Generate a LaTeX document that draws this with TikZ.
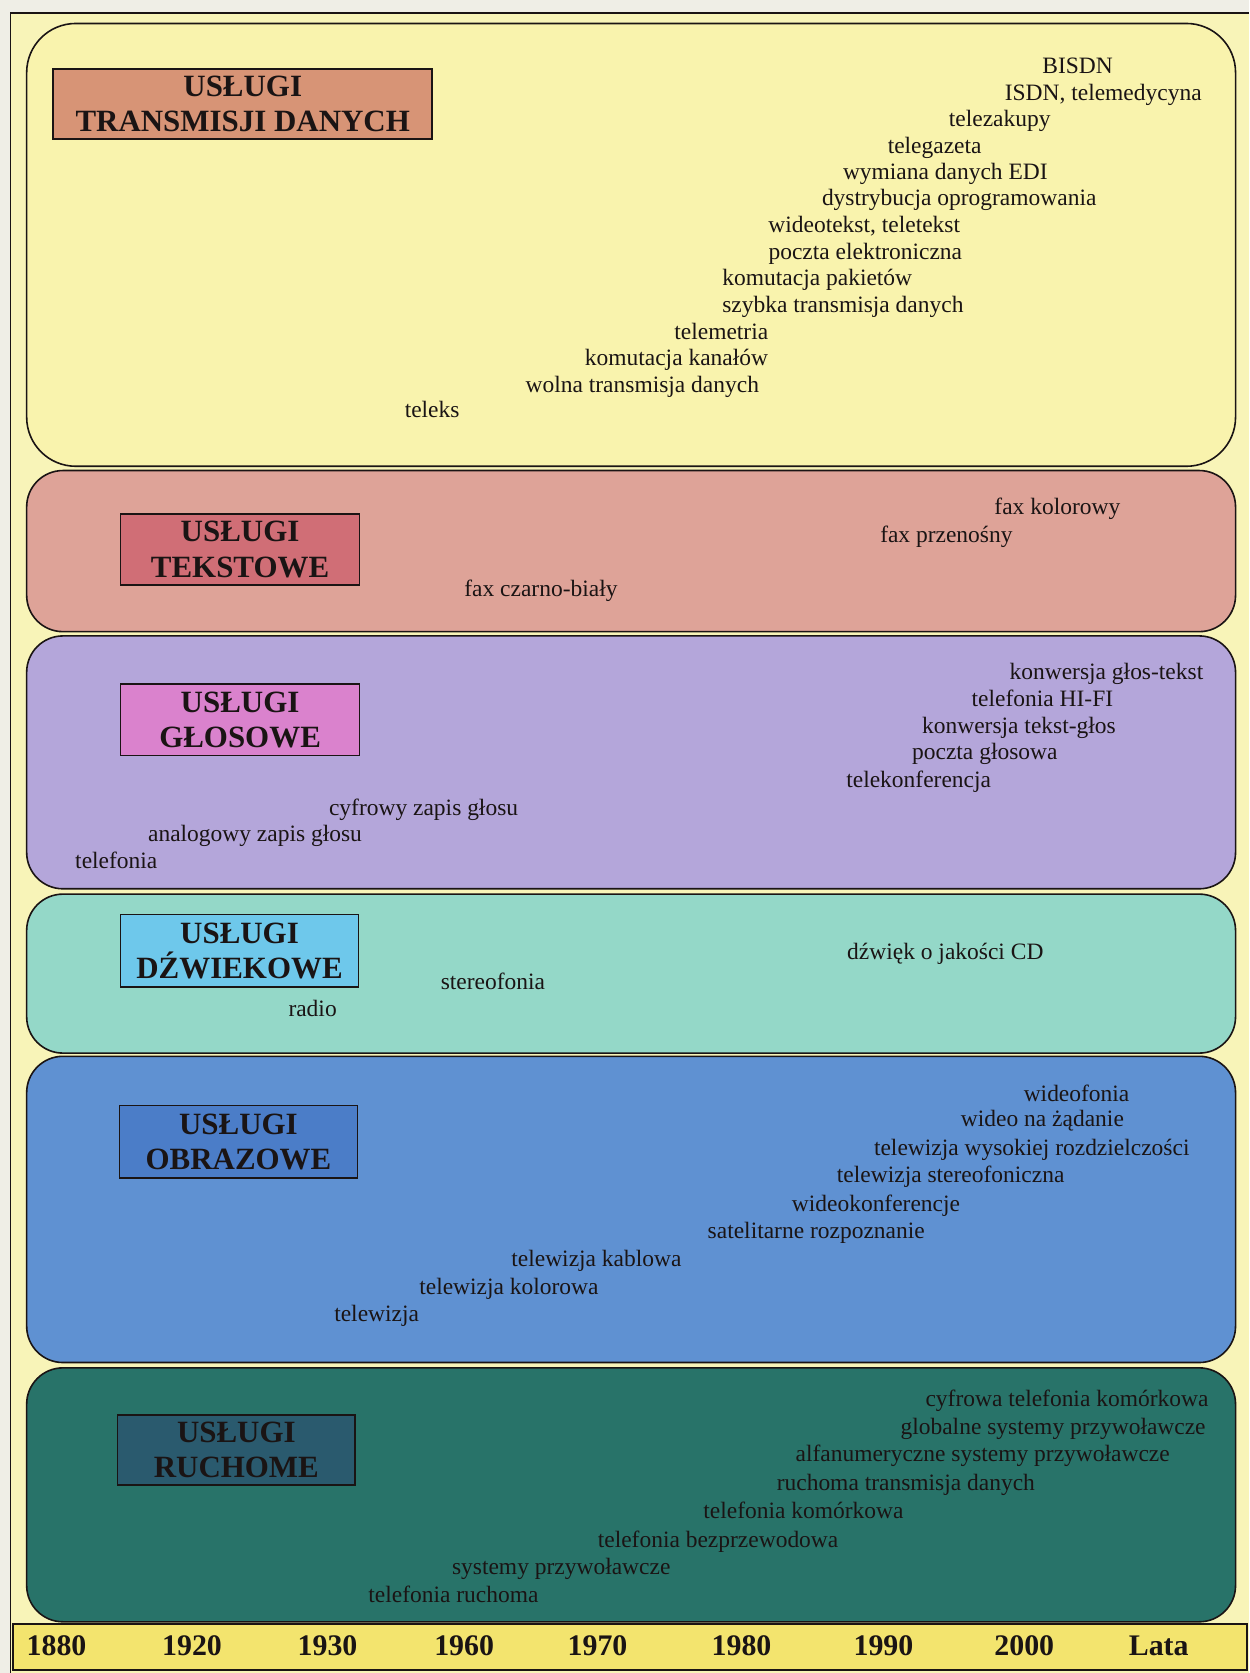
\documentclass[tikz,border=0pt]{standalone}
\usepackage{fontspec}
\setmainfont{Liberation Serif}
\begin{document}
\begin{tikzpicture}[x=1pt,y=-1pt]
\definecolor{page}{HTML}{EFEEE6}
\definecolor{frame}{HTML}{F8F4B8}
\definecolor{bandA}{HTML}{F9F3AD}
\definecolor{bandB}{HTML}{DEA398}
\definecolor{bandC}{HTML}{B4A6DA}
\definecolor{bandD}{HTML}{94D8C8}
\definecolor{bandE}{HTML}{5F91D2}
\definecolor{bandF}{HTML}{287369}
\definecolor{ttlA}{HTML}{D79476}
\definecolor{ttlB}{HTML}{D06E76}
\definecolor{ttlC}{HTML}{DA82CD}
\definecolor{ttlD}{HTML}{6EC8EB}
\definecolor{ttlE}{HTML}{4B7DC8}
\definecolor{ttlF}{HTML}{2A5A6E}
\definecolor{axis}{HTML}{F3E46E}
\definecolor{ink}{HTML}{1A1414}
\tikzset{
  band/.style={draw=ink, line width=1.5pt, rounded corners=#1, inner sep=0pt, minimum width=1133pt},
  band/.default=34pt,
  ttl/.style 2 args={draw=ink, line width=1.6pt, inner sep=0pt, align=center,
    minimum width=#1, minimum height=#2, text=ink,
    font=\fontsize{29}{33}\selectfont\bfseries},
  item/.style={inner sep=0pt, text=ink, text height=15pt, text depth=5pt,
    yshift=-3pt, font=\fontsize{22}{24}\selectfont},
  year/.style={inner sep=0pt, text=ink, text height=19pt, text depth=1pt,
    yshift=-2pt, font=\fontsize{28}{30}\selectfont\bfseries}
}
% page and frame
\useasboundingbox (0,0) rectangle (1171,1568);
\fill[page] (0,0) rectangle (1171,1568);
\fill[frame] (10,12) rectangle (1171,1568);
\draw[ink, line width=1.5pt] (10,1568) -- (10,12) -- (1171,12);

% bands
\node[band=46pt, fill=bandA, minimum height=415pt] (bA) at (591.5,229.5) {};
\node[band, fill=bandB, minimum height=151pt] (bB) at (591.5,516.5) {};
\node[band, fill=bandC, minimum height=237pt] (bC) at (591.5,714.5) {};
\node[band, fill=bandD, minimum height=149pt] (bD) at (591.5,912.5) {};
\node[band, fill=bandE, minimum height=287pt] (bE) at (591.5,1133.5) {};
\node[band, fill=bandF, minimum height=238pt] (bF) at (591.5,1401) {};

% titles
\node[ttl={355pt}{65pt}, fill=ttlA] (tA) at (227.5,97.5) {USŁUGI\\TRANSMISJI DANYCH};
\node[ttl={224pt}{66pt}, fill=ttlB] (tB) at (225,515) {USŁUGI\\TEKSTOWE};
\node[ttl={224pt}{67pt}, fill=ttlC] (tC) at (225,674.5) {USŁUGI\\GŁOSOWE};
\node[ttl={223pt}{68pt}, fill=ttlD] (tD) at (224.5,891) {USŁUGI\\DŹWIEKOWE};
\node[ttl={223pt}{68pt}, fill=ttlE] (tE) at (223.5,1070) {USŁUGI\\OBRAZOWE};
\node[ttl={223pt}{66pt}, fill=ttlF] (tF) at (221.5,1359) {USŁUGI\\RUCHOME};

% data transmission services
\node[item] (a1) at (1010,61) {BISDN};
\node[item] (a2) at (1034,86) {ISDN, telemedycyna};
\node[item] (a3) at (937,111) {telezakupy};
\node[item] (a4) at (876,136) {telegazeta};
\node[item] (a5) at (886,160) {wymiana danych EDI};
\node[item] (a6) at (899,185) {dystrybucja oprogramowania};
\node[item] (a7) at (810,210) {wideotekst, teletekst};
\node[item] (a8) at (811,235) {poczta elektroniczna};
\node[item] (a9) at (766,260) {komutacja pakietów};
\node[item] (a10) at (790,285) {szybka transmisja danych};
\node[item] (a11) at (676,310) {telemetria};
\node[item] (a12) at (634,335) {komutacja kanałów};
\node[item] (a13) at (602,360) {wolna transmisja danych};
\node[item] (a14) at (405,383) {teleks};

% text services
\node[item] (b1) at (991,474) {fax kolorowy};
\node[item] (b2) at (887,500) {fax przenośny};
\node[item] (b3) at (507,551) {fax czarno-biały};

% voice services
\node[item] (c1) at (1037,629) {konwersja głos-tekst};
\node[item] (c2) at (977,654) {telefonia HI-FI};
\node[item] (c3) at (955,679) {konwersja tekst-głos};
\node[item] (c4) at (923,704) {poczta głosowa};
\node[item] (c5) at (861,730) {telekonferencja};
\node[item] (c6) at (397,756) {cyfrowy zapis głosu};
\node[item] (c7) at (239,781) {analogowy zapis głosu};
\node[item] (c8) at (109,806) {telefonia};

% sound services
\node[item] (d1) at (886,891) {dźwięk o jakości CD};
\node[item] (d2) at (462,919) {stereofonia};
\node[item] (d3) at (293,945) {radio};

% image services
\node[item] (e1) at (1009,1024) {wideofonia};
\node[item] (e2) at (977,1048) {wideo na żądanie};
\node[item] (e3) at (967,1075) {telewizja wysokiej rozdzielczości};
\node[item] (e4) at (891,1100) {telewizja stereofoniczna};
\node[item] (e5) at (821,1127) {wideokonferencje};
\node[item] (e6) at (765,1153) {satelitarne rozpoznanie};
\node[item] (e7) at (559,1179) {telewizja kablowa};
\node[item] (e8) at (477,1205) {telewizja kolorowa};
\node[item] (e9) at (353,1231) {telewizja};

% mobile services
\node[item] (f1) at (1000,1310) {cyfrowa telefonia komórkowa};
\node[item] (f2) at (987,1336) {globalne systemy przywoławcze};
\node[item] (f3) at (921,1362) {alfanumeryczne systemy przywoławcze};
\node[item] (f4) at (849,1389) {ruchoma transmisja danych};
\node[item] (f5) at (753,1415) {telefonia komórkowa};
\node[item] (f6) at (673,1442) {telefonia bezprzewodowa};
\node[item] (f7) at (526,1468) {systemy przywoławcze};
\node[item] (f8) at (425,1494) {telefonia ruchoma};

% time axis
\node[draw=ink, line width=1.6pt, fill=axis, inner sep=0pt,
  minimum width=1157pt, minimum height=43pt] (ax) at (590.5,1543.5) {};
\node[year] (y1) at (53,1541) {1880};
\node[year] (y2) at (180,1541) {1920};
\node[year] (y3) at (307,1541) {1930};
\node[year] (y4) at (435,1541) {1960};
\node[year] (y5) at (560,1541) {1970};
\node[year] (y6) at (695,1541) {1980};
\node[year] (y7) at (828,1541) {1990};
\node[year] (y8) at (960,1541) {2000};
\node[year] (y9) at (1086,1541) {Lata};
\end{tikzpicture}
\end{document}
